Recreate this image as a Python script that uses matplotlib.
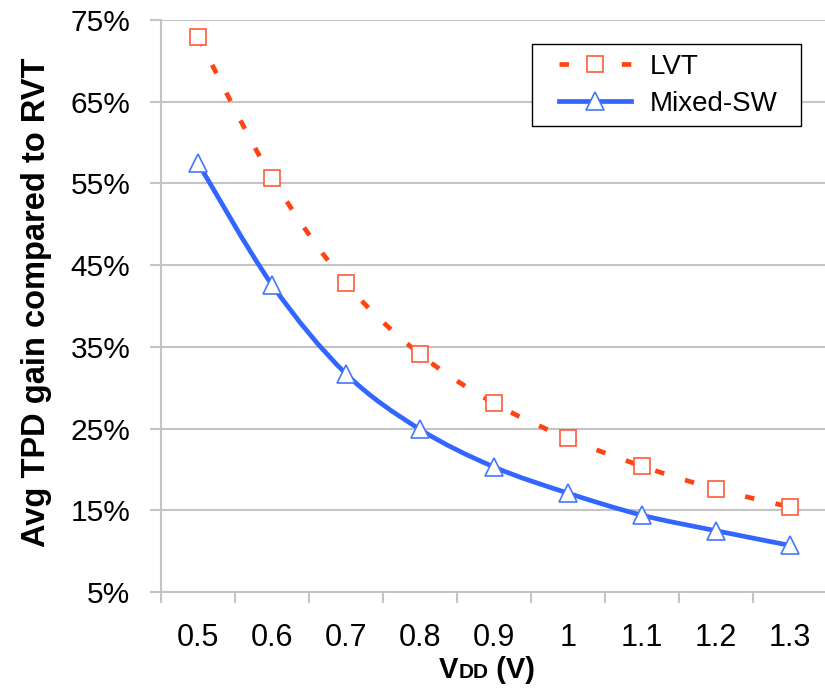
import numpy as np
import matplotlib
matplotlib.use("Agg")
import matplotlib.pyplot as plt
from matplotlib.path import Path
from matplotlib.patches import PathPatch, Rectangle
from matplotlib.lines import Line2D

plt.rcParams['font.family'] = ['Liberation Sans', 'DejaVu Sans']

vdd_labels = ["0.5", "0.6", "0.7", "0.8", "0.9", "1", "1.1", "1.2", "1.3"]
lvt_gain = [72.9, 55.7, 42.8, 34.1, 28.1, 23.8, 20.4, 17.6, 15.4]
mixed_sw_gain = [57.5, 42.6, 31.7, 24.9, 20.3, 17.1, 14.4, 12.5, 10.7]
y_ticks = [5, 15, 25, 35, 45, 55, 65, 75]

LVT_LINE = "#FF4412"
LVT_EDGE = "#FF5A3A"
MIX_LINE = "#3366FF"
MIX_EDGE = "#4477FF"
GRID = "#C4C4C4"
LW = 3.4
LVT_DASH = (0, (2.0, 4.6))


def smooth_path(xs, ys):
    """Catmull-Rom style cubic Bezier through the points (Excel-like smoothing)."""
    pts = np.column_stack([xs, ys]).astype(float)
    ext = np.vstack([pts[0], pts, pts[-1]])
    verts = [pts[0]]
    codes = [Path.MOVETO]
    for i in range(len(pts) - 1):
        p0, p1, p2, p3 = ext[i], ext[i + 1], ext[i + 2], ext[i + 3]
        c1 = p1 + (p2 - p0) / 6.0
        c2 = p2 - (p3 - p1) / 6.0
        verts += [c1, c2, p2]
        codes += [Path.CURVE4] * 3
    return Path(np.array(verts), codes)


W, H = 825, 688
fig = plt.figure(figsize=(W / 100, H / 100), dpi=100)
ax = fig.add_axes([161 / W, 1 - 592 / H, 666 / W, (592 - 20) / H])

x = np.arange(len(vdd_labels))

ax.add_patch(PathPatch(smooth_path(x, lvt_gain), fill=False, edgecolor=LVT_LINE,
                       lw=LW, linestyle=LVT_DASH, capstyle='butt', zorder=3))
ax.add_patch(PathPatch(smooth_path(x, mixed_sw_gain), fill=False, edgecolor=MIX_LINE,
                       lw=LW, zorder=3))

ax.plot(x, lvt_gain, linestyle='none', marker='s', markersize=12,
        markerfacecolor='white', markeredgecolor=LVT_EDGE, markeredgewidth=1.2, zorder=4)
ax.plot(x, mixed_sw_gain, linestyle='none', marker='^', markersize=13,
        markerfacecolor='white', markeredgecolor=MIX_EDGE, markeredgewidth=1.2, zorder=4)

ax.set_xlim(-0.5, len(vdd_labels) - 0.5)
ax.set_ylim(5, 75)

ax.set_yticks(y_ticks)
ax.set_yticklabels([f"{v}%" for v in y_ticks])
ax.yaxis.grid(True, color=GRID, linewidth=1.5)
ax.set_axisbelow(True)

ax.set_xticks(x)
ax.set_xticklabels(vdd_labels)
ax.set_xticks(np.arange(-0.5, len(vdd_labels)), minor=True)
ax.tick_params(axis='x', which='major', length=0, pad=22, labelsize=22)
ax.tick_params(axis='x', which='minor', length=8, width=1.5, color=GRID, direction='out')
ax.tick_params(axis='y', which='major', length=8, width=1.5, color=GRID, pad=14,
               labelsize=21.5)

for side in ('top', 'right'):
    ax.spines[side].set_visible(False)
for side in ('left', 'bottom'):
    ax.spines[side].set_color(GRID)
    ax.spines[side].set_linewidth(1.5)

fig.text(37 / W, 1 - 302 / H, "Avg TPD gain compared to RVT", rotation=90,
         ha='center', va='center', fontsize=23.5, fontweight='bold')

# x-axis title: "V" + small-caps "DD" + " (V)", all sharing one baseline
title_parts = [("V", 21), ("DD", 15), (" (V)", 21)]
baseline_y = 1 - 678 / H
parts = [fig.text(0, baseline_y, s, fontsize=fs, fontweight='bold', ha='left',
                  va='baseline') for s, fs in title_parts]
fig.canvas.draw()
r = fig.canvas.get_renderer()
widths = [p.get_window_extent(r).width for p in parts]
x0 = 487 - sum(widths) / 2
for p, wd in zip(parts, widths):
    p.set_x(x0 / W)
    x0 += wd

handles = [
    Line2D([], [], color=LVT_LINE, lw=LW, linestyle=LVT_DASH, marker='s',
           markersize=12, markerfacecolor='white', markeredgecolor=LVT_EDGE,
           markeredgewidth=1.2),
    Line2D([], [], color=MIX_LINE, lw=LW, marker='^', markersize=13,
           markerfacecolor='white', markeredgecolor=MIX_EDGE, markeredgewidth=1.2),
]
leg = fig.legend(handles, ["LVT", "Mixed-SW"], loc='upper left',
                 bbox_to_anchor=(559 / W, 1 - 54 / H), borderaxespad=0, borderpad=0,
                 fontsize=20, frameon=False, handlelength=2.6, labelspacing=0.38,
                 handletextpad=0.65)
fig.add_artist(Rectangle((532 / W, 1 - 126 / H), (801 - 532) / W, (126 - 44) / H,
                         transform=fig.transFigure, facecolor='white',
                         edgecolor='black', linewidth=1.0, zorder=leg.get_zorder() - 0.1))

fig.savefig("out.png", dpi=100)
